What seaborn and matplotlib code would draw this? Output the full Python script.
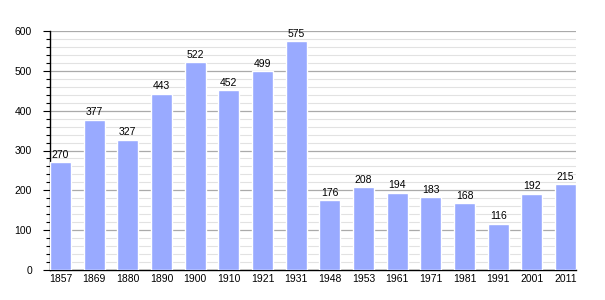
import matplotlib
matplotlib.use("Agg")
import matplotlib.pyplot as plt
import seaborn as sns
import pandas as pd
from matplotlib.ticker import MultipleLocator

years = ["1857", "1869", "1880", "1890", "1900", "1910", "1921", "1931",
         "1948", "1953", "1961", "1971", "1981", "1991", "2001", "2011"]
population = [270, 377, 327, 443, 522, 452, 499, 575,
              176, 208, 194, 183, 168, 116, 192, 215]

df = pd.DataFrame({"year": years, "pop": population})

sns.set_style("white")
plt.rcParams["font.family"] = ["Liberation Sans", "DejaVu Sans"]
plt.rcParams["text.color"] = "black"
plt.rcParams["xtick.color"] = "black"
plt.rcParams["ytick.color"] = "black"

fig = plt.figure(figsize=(6.05, 3.0), dpi=100)
ax = fig.add_axes([50/605, 30/300, 526/605, 239/300])

sns.barplot(data=df, x="year", y="pop", color="#99aaff", saturation=1,
            width=0.624, ax=ax, zorder=3)

ax.set_ylim(0, 600)
ax.set_xlim(-0.312, len(years) - 1 + 0.312)
ax.yaxis.set_major_locator(MultipleLocator(100))
ax.yaxis.set_minor_locator(MultipleLocator(20))
ax.grid(True, which="major", axis="y", color="#aaaaaa", linewidth=0.9, zorder=0)
ax.grid(True, which="minor", axis="y", color="#e2e2e2", linewidth=0.8, zorder=0)
ax.set_axisbelow(True)

for s in ["top", "right"]:
    ax.spines[s].set_visible(False)
for s in ["left", "bottom"]:
    ax.spines[s].set_color("black")
    ax.spines[s].set_linewidth(1.0)

ax.tick_params(axis="y", which="major", length=5, width=0.8, labelsize=7.5, left=True, pad=8,
               colors="black")
ax.tick_params(axis="y", which="minor", length=3, width=0.8, left=True, colors="black")
ax.tick_params(axis="x", length=0, labelsize=7.5, pad=3, labelcolor="black")
ax.set_xlabel("")
ax.set_ylabel("")

for i, v in enumerate(population):
    ax.text(i, v + 6, str(v), ha="center", va="bottom", fontsize=7.5, color="black")

fig.savefig("out.png", dpi=100)
